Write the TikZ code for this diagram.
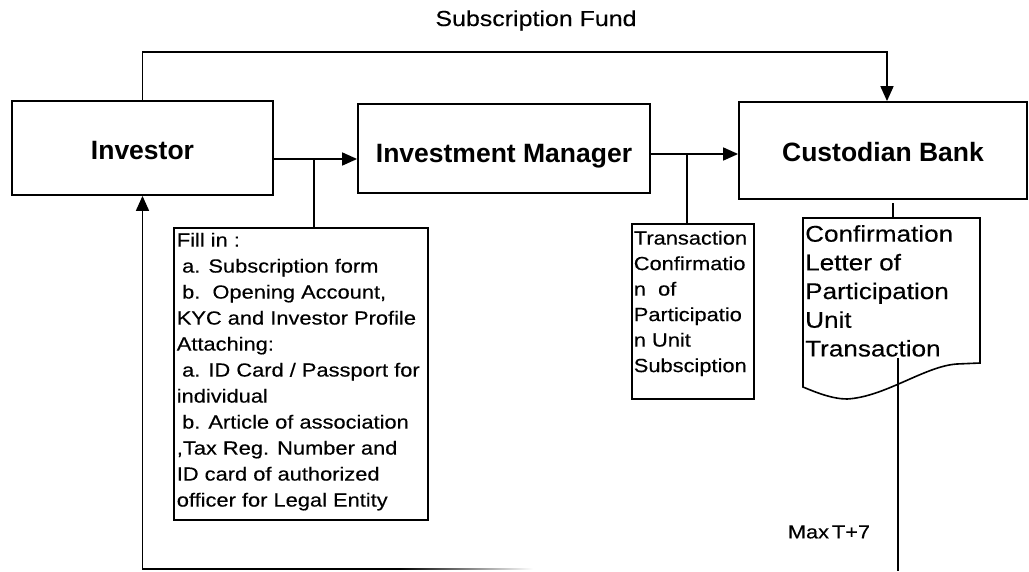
\documentclass[tikz,border=0pt]{standalone}
\usepackage{fontspec}
\setmainfont{Liberation Sans}
\newfontfamily\txtf[FakeStretch=1.15,FakeBold=0.3]{Liberation Sans}
\usetikzlibrary{arrows.meta}
\begin{document}
\begin{tikzpicture}[x=1pt,y=-1pt,
  mainbox/.style={draw, line width=1.8pt, font=\fontsize{26.5}{30}\selectfont\bfseries, inner sep=0pt, text depth=0pt},
  conn/.style={line width=1.7pt},
  arr/.style={conn, -{Triangle[length=15pt,width=13pt]}},
  textbox/.style={draw, line width=1.6pt, anchor=north west},
  ]
\useasboundingbox (0,0) rectangle (1029,571);
% main boxes
\node[mainbox, text height=23pt, minimum width=261pt, minimum height=94pt] (inv) at (142.5,148) {Investor};
\node[mainbox, text height=27pt, minimum width=292pt, minimum height=89pt] (im) at (504,148.5) {Investment Manager};
\node[mainbox, text height=21pt, minimum width=288pt, minimum height=97pt] (cb) at (883,150.5) {Custodian Bank};
% subscription fund
\node[anchor=base, font=\txtf\fontsize{21.7}{24}\selectfont] (sf) at (536,26) {Subscription Fund};
\coordinate (cbin) at (887,52);
\draw[arr] (inv.north) |- (cbin) -- (cbin |- cb.north);
% investor -> IM
\coordinate (j1) at (314,159);
\draw[arr] (inv.east |- j1) -- (im.west |- j1);
\node[textbox, inner xsep=3pt, inner ysep=5pt, font=\txtf\fontsize{19}{26}\selectfont] (fill) at (173,227)
  {\parbox[t][282pt][t]{248pt}{\raggedright\hyphenpenalty=10000
   Fill in :\\
   \hspace*{0.28em}a. Subscription form\\
   \hspace*{0.28em}b.\ \ Opening Account,\\
   KYC and Investor Profile\\
   Attaching:\\
   \hspace*{0.28em}a. ID Card / Passport for\\
   individual\\
   \hspace*{0.28em}b. Article of association\\
   ,Tax Reg. Number and\\
   ID card of authorized\\
   officer for Legal Entity}};
\draw[conn] (j1) -- (j1 |- fill.north);
% IM -> CB
\coordinate (j2) at (687,154);
\draw[arr] (im.east |- j2) -- (cb.west |- j2);
\node[textbox, inner xsep=2pt, inner ysep=7pt, font=\txtf\fontsize{19}{25.5}\selectfont] (tc) at (631,223)
  {\parbox[t][161pt][t]{118pt}{\raggedright\hyphenpenalty=10000
   Transaction\\Confirmatio\\n\ \ of\\Participatio\\n Unit\\Subsciption}};
\draw[conn] (j2) -- (j2 |- tc.north);
% document
\draw[line width=1.6pt] (803,218) -- (980,218) -- (980,363) -- (957,364)
  .. controls (925,366) and (885,397) .. (847,399)
  .. controls (832,399) and (815,392) .. (803,387) -- cycle;
\node[anchor=north west, inner sep=0pt, align=left, font=\txtf\fontsize{22.7}{28.7}\selectfont] (doc) at (805,225)
  {Confirmation\\Letter of\\Participation\\Unit\\Transaction};
\coordinate (s1) at (893,203);
\coordinate (s2) at (893,218);
\draw[conn] (s1) -- (s2);
\coordinate (d1) at (898,358);
\coordinate (d2) at (898,571);
\draw[conn] (d1) -- (d2);
\node[font=\txtf\fontsize{18.9}{22}\selectfont] (mt) at (829,532) {Max\kern3ptT+7};
% bottom return
\coordinate (bl) at (142.5,569);
\coordinate (bm) at (400,569);
\draw[arr] (bm) -- (bl) -- (inv.south);
\shade[left color=black, right color=white] (400,568.15) rectangle (533,569.85);
\end{tikzpicture}
\end{document}
